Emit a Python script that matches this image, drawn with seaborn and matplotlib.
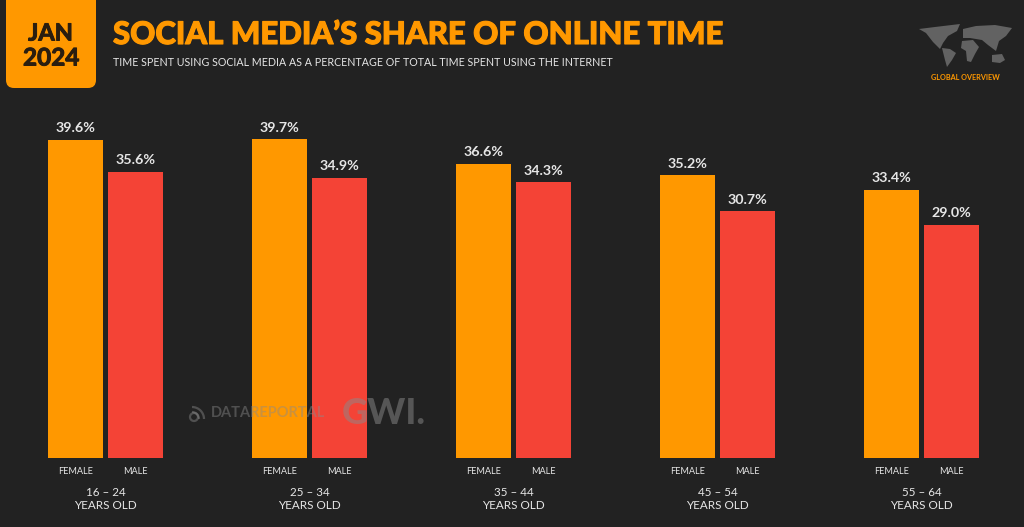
"""Social media's share of online time, by age group and gender."""
import matplotlib
matplotlib.use('Agg')
import matplotlib.pyplot as plt
import matplotlib.patheffects as pe
from matplotlib.patches import Arc, Circle, FancyBboxPatch, Polygon
import pandas as pd
import seaborn as sns

age_groups = ['16 – 24', '25 – 34', '35 – 44', '45 – 54', '55 – 64']
female = [39.6, 39.7, 36.6, 35.2, 33.4]
male = [35.6, 34.9, 34.3, 30.7, 29.0]
genders = ['FEMALE', 'MALE']

BG = '#222222'
ORANGE = '#FF9800'
RED = '#F44336'
LIGHT = '#E6E6E6'
DARK = '#2A1E10'
W, H = 1024, 527

sns.set_theme(style='dark')
plt.rcParams['font.family'] = ['Lato', 'DejaVu Sans']

df = pd.DataFrame({
    'age': age_groups * 2,
    'gender': ['FEMALE'] * 5 + ['MALE'] * 5,
    'share': female + male,
})

fig = plt.figure(figsize=(W / 100, H / 100), dpi=100, facecolor=BG)

# plot area, placed so one category is 204 px and one percent is about 8 px
ax = fig.add_axes([3.5 / W, (H - 457.5) / H, 1020 / W, 357.5 / H], facecolor=BG)
sns.barplot(data=df, x='age', y='share', hue='gender', order=age_groups, hue_order=genders,
            palette=[ORANGE, RED], saturation=1, linewidth=0, width=0.588, gap=0.083,
            legend=False, ax=ax)
ax.set_ylim(0, 357.5 / 8.02)
ax.set_xlim(-0.5, 4.5)
ax.set_xlabel('')
ax.set_ylabel('')
ax.set_yticks([])
ax.set_xticks([])
ax.grid(False)
for s in ax.spines.values():
    s.set_visible(False)

# value labels and gender labels under each bar
for container, gender in zip(ax.containers, genders):
    for bar in container:
        cx = bar.get_x() + bar.get_width() / 2
        ax.annotate(f'{bar.get_height():.1f}%', (cx, bar.get_height()), xytext=(0, 4),
                    textcoords='offset points', ha='center', va='bottom', color=LIGHT,
                    fontsize=10.3, fontweight='bold')
        ax.annotate(gender, (cx, 0), xytext=(0, -7), textcoords='offset points',
                    ha='center', va='top', color=LIGHT, fontsize=6.6)

for i, age in enumerate(age_groups):
    ax.annotate(age + '\nYEARS OLD', (i, 0), xytext=(0, -21), textcoords='offset points',
                ha='center', va='top', color=LIGHT, fontsize=8.4, linespacing=1.3)

# overlay in pixel coordinates for the header and logos
over = fig.add_axes([0, 0, 1, 1], facecolor='none')
over.set_xlim(0, W)
over.set_ylim(H, 0)
over.axis('off')

over.add_patch(FancyBboxPatch((6, -30), 90, 118, boxstyle='round,pad=0,rounding_size=8',
                              facecolor=ORANGE, edgecolor='none'))
heavy_dark = [pe.withStroke(linewidth=0.7, foreground=DARK)]
over.text(50.5, 33, 'JAN', ha='center', va='center', color=DARK, fontsize=17,
          fontweight='bold', path_effects=heavy_dark)
over.text(51, 58, '2024', ha='center', va='center', color=DARK, fontsize=17.5,
          fontweight='bold', path_effects=heavy_dark)

over.text(113, 35, 'SOCIAL MEDIA’S SHARE OF ONLINE TIME', ha='left', va='center',
          color=ORANGE, fontsize=22.4, fontweight='black',
          path_effects=[pe.withStroke(linewidth=0.8, foreground=ORANGE)])
over.text(113, 62, 'TIME SPENT USING SOCIAL MEDIA AS A PERCENTAGE OF TOTAL TIME SPENT USING THE INTERNET',
          ha='left', va='center', color=LIGHT, fontsize=7.7)

# rough world map
land = [
    [(919, 29), (935, 27), (960, 24), (957, 31), (948, 36), (943, 43), (940, 49), (933, 42), (926, 33)],
    [(942, 48), (950, 49), (956, 53), (952, 60), (947, 67), (945, 60)],
    [(963, 29), (976, 26), (995, 25), (1012, 28), (1006, 36), (999, 41), (996, 51), (988, 45), (982, 40), (970, 38), (963, 38)],
    [(962, 41), (973, 40), (979, 47), (975, 54), (971, 62), (967, 61), (966, 51), (961, 48)],
    [(992, 55), (1002, 54), (1005, 60), (1000, 63), (992, 62)],
]
for pts in land:
    over.add_patch(Polygon(pts, closed=True, facecolor='#626262', edgecolor='none'))
over.text(965, 77, 'GLOBAL OVERVIEW', ha='center', va='center', color=ORANGE, fontsize=5.2, fontweight='bold')

# watermarks sit on top of the bars
mark = '#8A8A8A'
over.add_patch(Circle((194, 417), 4, facecolor='none', edgecolor=mark, linewidth=1.6, alpha=0.45))
for size in (14, 24):
    over.add_patch(Arc((192, 419), size, size, theta1=-90, theta2=0, edgecolor=mark, linewidth=1.6, alpha=0.45))
over.text(211, 413, 'DATAREPORTAL', ha='left', va='center', color=mark, alpha=0.45,
          fontsize=10.5, fontweight='bold')
over.text(342, 414, 'GWI.', ha='left', va='center', color=mark, alpha=0.5,
          fontsize=26, fontweight='black')

fig.savefig('out.png', dpi=100, facecolor=BG)
